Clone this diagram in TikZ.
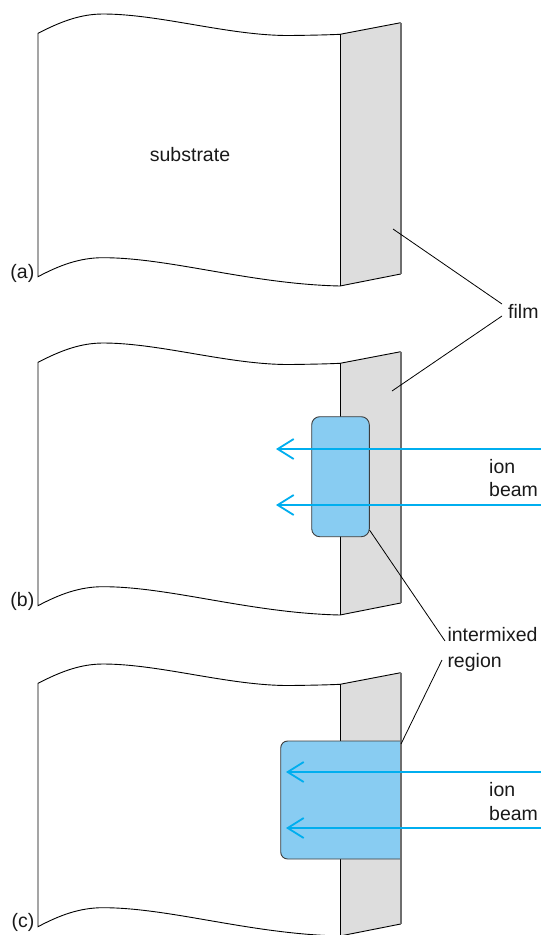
\documentclass[tikz,border=0pt]{standalone}
\usepackage{fontspec}
\setmainfont{Liberation Sans}
\usetikzlibrary{arrows.meta}
\definecolor{filmgray}{HTML}{DDDDDD}
\definecolor{edgegray}{HTML}{6E6E6E}
\definecolor{mixblue}{HTML}{88CCF2}
\definecolor{beamcyan}{HTML}{00AEEF}
\definecolor{boxline}{HTML}{3C3C3C}
\tikzset{
  outline/.style={draw=black, line width=0.9pt},
  filmedge/.style={draw=edgegray, line width=1.6pt},
  mixbox/.style={fill=mixblue, draw=boxline, line width=0.9pt},
  beam/.style={draw=beamcyan, line width=2pt, -{Straight Barb[length=16pt,width=20pt,line width=1.8pt]}},
  leader/.style={draw=black, line width=0.8pt},
  lbl/.style={inner sep=0pt, font=\fontsize{19.5}{23.4}\selectfont, text=black!90},
  panel/.pic={
    % substrate
    \path[fill=white] (38,33.3) .. controls (60,22) and (80,14) .. (103,14)
      .. controls (160,14) and (230,36) .. (290,35.5)
      .. controls (315,35.2) and (330,34.8) .. (340,34.3)
      -- (340,286) .. controls (250,284) and (170,257.7) .. (103,257.7)
      .. controls (80,257.7) and (60,265) .. (38,276.7) -- cycle;
    \draw[outline] (340,34.3) .. controls (330,34.8) and (315,35.2) .. (290,35.5)
      .. controls (230,36) and (160,14) .. (103,14)
      .. controls (80,14) and (60,22) .. (38,33.3)
      -- (38,276.7) .. controls (60,265) and (80,257.7) .. (103,257.7)
      .. controls (170,257.7) and (250,284) .. (340,286);
    % film
    \path[fill=filmgray] (340,34.3) -- (400.7,22.7) -- (400.7,274) -- (340,286) -- cycle;
    \draw[outline] (340,34.3) -- (400.7,22.7);
    \draw[outline] (340,286) -- (400.7,274);
    \draw[outline] (340,34.3) -- (340,286);
    \draw[filmedge] (400.7,22.7) -- (400.7,274);
  }
}
\begin{document}
\begin{tikzpicture}[x=1pt,y=-1pt]
\useasboundingbox (0,0) rectangle (541,935);
\clip (0,0) rectangle (541,935);

% panel (a)
\pic at (0,0) {panel};
\node[lbl, anchor=base] (sub) at (190,161) {substrate};
\node[lbl, anchor=base east] (la) at (34.5,278.3) {(a)};

% panel (b)
\pic at (0,329) {panel};
\node[mixbox, rounded corners=8pt, minimum width=57.6pt, minimum height=120pt, inner sep=0pt] (boxb) at (340.5,476.7) {};
\draw[filmedge] (400.7,351.7) -- (400.7,603);
\node[lbl, anchor=base east] (lb) at (34.5,606.5) {(b)};
\coordinate (bb1s) at (541,449);
\coordinate (bb1e) at (276,449);
\coordinate (bb2s) at (541,505);
\coordinate (bb2e) at (276,505);
\draw[beam] (bb1s) -- (bb1e);
\draw[beam] (bb2s) -- (bb2e);
\node[lbl, anchor=base west] (ionb) at (489,473.3) {ion};
\node[lbl, anchor=base west] (beamb) at (489,496.7) {beam};

% panel (c)
\pic at (0,650) {panel};
\path[mixbox] (401,741) -- (287.7,741) .. controls (283.8,741) and (280.7,744.1) .. (280.7,748)
  -- (280.7,852) .. controls (280.7,855.9) and (283.8,859) .. (287.7,859) -- (401,859) -- cycle;
\draw[filmedge] (400.7,672.7) -- (400.7,924);
\node[lbl, anchor=base east] (lc) at (34.5,927.5) {(c)};
\coordinate (cb1s) at (541,772);
\coordinate (cb1e) at (286,772);
\coordinate (cb2s) at (541,828);
\coordinate (cb2e) at (286,828);
\draw[beam] (cb1s) -- (cb1e);
\draw[beam] (cb2s) -- (cb2e);
\node[lbl, anchor=base west] (ionc) at (489,796.8) {ion};
\node[lbl, anchor=base west] (beamc) at (489,820.2) {beam};

% film label and leaders
\node[lbl, anchor=base west] (film) at (508,318.3) {film};
\coordinate (fa) at (393,229);
\coordinate (fb) at (392,391);
\coordinate (f1) at (502,304);
\coordinate (f2) at (502,316);
\draw[leader] (fa) -- (f1);
\draw[leader] (fb) -- (f2);

% intermixed region label and leaders
\node[lbl, anchor=base west] (mix1) at (447.3,641.7) {intermixed};
\node[lbl, anchor=base west] (mix2) at (447.3,667.5) {region};
\coordinate (ma) at (369.5,530);
\coordinate (m1) at (445,641);
\coordinate (m2) at (442,660);
\coordinate (mb) at (401,744);
\draw[leader] (ma) -- (m1);
\draw[leader] (m2) -- (mb);
\end{tikzpicture}
\end{document}
